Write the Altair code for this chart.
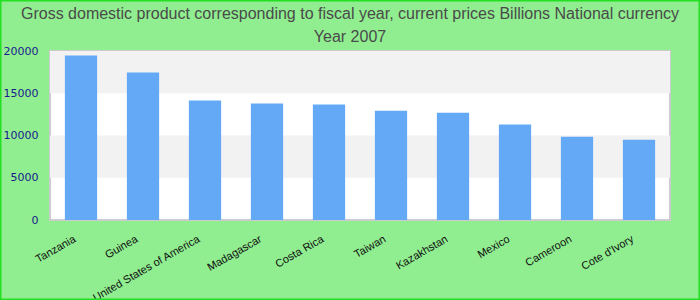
import altair as alt
import pandas as pd

countries = ["Tanzania", "Guinea", "United States of America", "Madagascar", "Costa Rica",
             "Taiwan", "Kazakhstan", "Mexico", "Cameroon", "Cote d'Ivory"]
values = [19480, 17460, 14130, 13780, 13660, 12940, 12700, 11290, 9850, 9500]
band_starts = [5000, 15000]
band_ends = [10000, 20000]
y_ticks = [0, 5000, 10000, 15000, 20000]

df = pd.DataFrame({"country": countries, "value": values})
bands = pd.DataFrame({"y": band_starts, "y2": band_ends})

W, H = 620, 169
PAD = {"left": 50, "top": 51, "right": 30, "bottom": 80}

band_layer = alt.Chart(bands).mark_rect(color="#f2f2f2").encode(
    x=alt.value(0), x2=alt.value(W),
    y=alt.Y("y:Q", scale=alt.Scale(domain=[0, 20000])),
    y2="y2:Q",
)

bars = alt.Chart(df).mark_bar(color="#63a9f5").encode(
    x=alt.X("country:N", sort=countries, title=None,
            scale=alt.Scale(paddingInner=0.48, paddingOuter=0.24),
            axis=alt.Axis(labelAngle=-30, labelAlign="right", labelBaseline="middle",
                          labelPadding=18, labelOffset=-6, ticks=False, domain=False,
                          labelColor="#111111", labelFontSize=11, labelFont="Liberation Sans")),
    y=alt.Y("value:Q", title=None, scale=alt.Scale(domain=[0, 20000]),
            axis=alt.Axis(values=y_ticks, format="d", grid=False, ticks=False, domain=False,
                          labelColor="#1a1a8c", labelFontSize=11, labelPadding=12,
                          labelFont="DejaVu Sans")),
)

border = alt.Chart(pd.DataFrame({"a": [0]})).mark_rect(
    fill=None, stroke="#22e022", strokeWidth=1.5, clip=False
).encode(
    x=alt.value(-PAD["left"] + 0.75), x2=alt.value(W + PAD["right"] - 0.75),
    y=alt.value(-PAD["top"] + 0.75), y2=alt.value(H + PAD["bottom"] - 0.75),
)

chart = alt.layer(band_layer, bars, border).properties(
    width=W, height=H,
    autosize=alt.AutoSizeParams(type="none"),
    padding=PAD,
    background="#90ee90",
    title=alt.TitleParams(
        ["Gross domestic product corresponding to fiscal year, current prices Billions National currency",
         "Year 2007"],
        fontSize=16, font="Liberation Sans", fontWeight="normal", color="#4a4a4a",
        lineHeight=23, anchor="middle", dx=-10, dy=51, offset=6,
    ),
).configure_view(stroke="#cccccc", strokeWidth=2, fill="white")

chart.save("out.html", embed_options={"renderer": "svg", "actions": False})
